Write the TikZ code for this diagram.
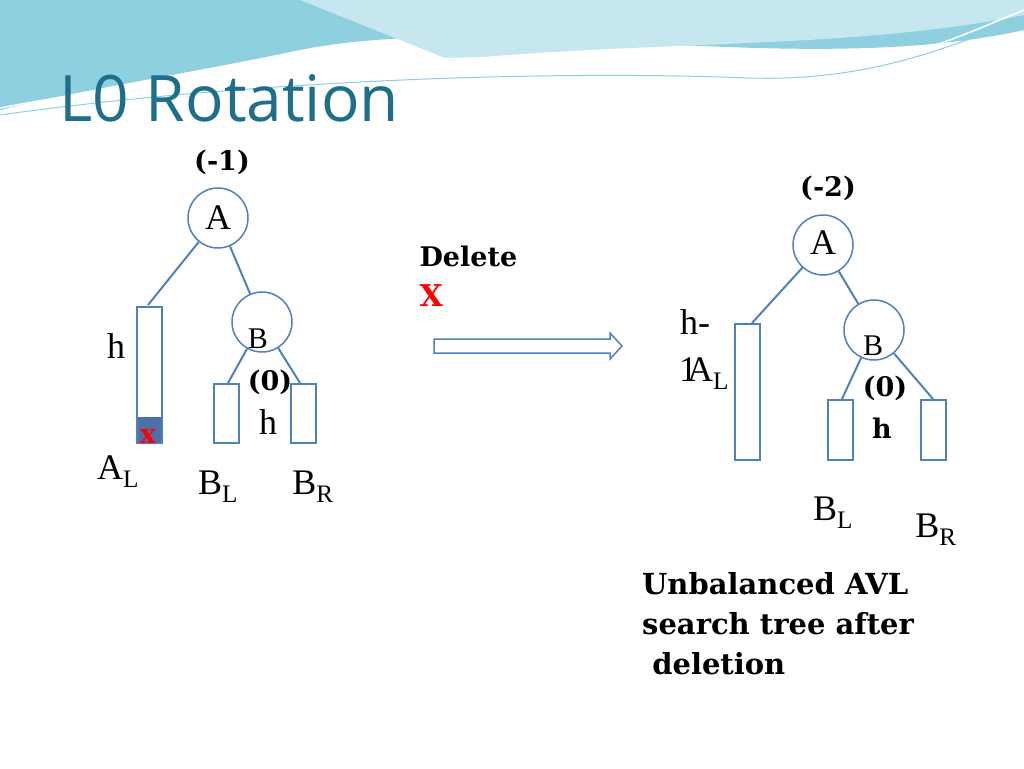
\documentclass[tikz,border=0pt]{standalone}
\usepackage{fontspec}
\setmainfont{Liberation Serif}
\newfontfamily\titlef{Open Sans}
\newfontfamily\bsf{DejaVu Serif}
\definecolor{titlec}{HTML}{1F6E8C}
\definecolor{edge}{HTML}{4F81BD}
\definecolor{wave1}{HTML}{8ECFE0}
\definecolor{wave2}{HTML}{C6E7EF}
\definecolor{fillb}{HTML}{4F6FA8}
\begin{document}
\begin{tikzpicture}[x=1pt,y=-1pt,
  nd/.style={circle,draw=edge,line width=1.5pt,minimum size=60pt,inner sep=0pt},
  bx/.style={draw=edge,line width=2pt,inner sep=0pt},
  ln/.style={edge,line width=2pt},
  lab/.style={font=\fontsize{36}{36}\selectfont,anchor=center},
  blab/.style={font=\bsf\bfseries\fontsize{27}{30}\selectfont,anchor=center}]
\useasboundingbox (0,0) rectangle (1024,768);
\fill[white] (0,0) rectangle (1024,768);
% banner
\fill[wave2] (0,0) rectangle (1024,20);
\fill[wave1] (0,0) -- (1024,0) -- (1024,30) .. controls (800,80) and (500,10) .. (300,50) .. controls (180,75) and (80,90) .. (0,110) -- cycle;
\fill[wave2] (300,0) -- (1024,0) -- (1024,15) .. controls (850,50) and (650,40) .. (450,60) .. controls (400,40) and (350,20) .. (300,0) -- cycle;
\draw[white,line width=1.5pt] (0,108) .. controls (200,70) and (500,40) .. (700,70) .. controls (850,90) and (950,40) .. (1024,10);
\draw[wave1,line width=1pt] (0,115) .. controls (250,80) and (550,70) .. (750,78) .. controls (880,82) and (960,40) .. (1024,20);
\node[anchor=west,text=titlec,font=\titlef\fontsize{64}{66}\selectfont] (title) at (56,98) {L0 Rotation};
% left tree
\node[nd] (A1) at (218,218) {};
\node[lab] at (218,218) {A};
\node[blab] (m1) at (222,162) {(-1)};
\node[bx,minimum width=25pt,minimum height=136pt] (AL1) at (149.5,375) {};
\fill[fillb] (138,417) rectangle (161,442);
\node[text=red,font=\bsf\bfseries\fontsize{27}{27}\selectfont] (x1) at (148,436) {x};
\node[lab] (h1) at (116,346) {h};
\node[lab] (al1) at (118,472) {A\textsubscript{L}};
\node[nd] (B1) at (262,322) {};
\node[font=\fontsize{30}{30}\selectfont] at (258,339) {B};
\node[blab] (z1) at (270,382) {(0)};
\node[bx,minimum width=25pt,minimum height=59pt] (BL1) at (226.5,413.5) {};
\node[bx,minimum width=25pt,minimum height=59pt] (BR1) at (303.5,413.5) {};
\node[lab] (h2) at (268,422) {h};
\node[lab] (bl1) at (218,487) {B\textsubscript{L}};
\node[lab] (br1) at (313,487) {B\textsubscript{R}};
\draw[ln] (A1) -- (148,305);
\draw[ln] (A1) -- (B1);
\draw[ln] (B1) -- (228,383);
\draw[ln] (B1) -- (300,383);
% arrow
\node[blab,anchor=west] (del) at (416,256) {Delete};
\node[text=red,font=\bsf\bfseries\fontsize{30}{30}\selectfont,anchor=west] (X) at (416,296) {X};
\draw[edge,line width=1.5pt] (434,339) -- (610,339) -- (610,333) -- (622,346) -- (610,359) -- (610,353) -- (434,353) -- cycle;
% right tree
\node[nd] (A2) at (823,245) {};
\node[lab] at (823,243) {A};
\node[blab] (m2) at (828,188) {(-2)};
\node[bx,minimum width=25pt,minimum height=136pt] (AL2) at (747.5,392) {};
\node[lab] (hm) at (695,322) {h-};
\node[lab] (one) at (688,370) {1};
\node[lab] (al2) at (708,374) {A\textsubscript{L}};
\node[nd] (B2) at (874,330) {};
\node[font=\fontsize{30}{30}\selectfont] at (873,346) {B};
\node[blab] (z2) at (885,388) {(0)};
\node[blab] (h3) at (882,428) {h};
\node[bx,minimum width=25pt,minimum height=60pt] (BL2) at (840.5,430) {};
\node[bx,minimum width=25pt,minimum height=60pt] (BR2) at (933.5,430) {};
\node[lab] (bl2) at (833,513) {B\textsubscript{L}};
\node[lab] (br2) at (936,530) {B\textsubscript{R}};
\draw[ln] (A2) -- (752,323);
\draw[ln] (A2) -- (B2);
\draw[ln] (B2) -- (842,399);
\draw[ln] (B2) -- (933,399);
\node[font=\bsf\bfseries\fontsize{29}{40}\selectfont,anchor=north west,align=left,inner sep=0pt] (cap) at (642,572) {Unbalanced AVL\\search tree after\\\ deletion};
\end{tikzpicture}
\end{document}
